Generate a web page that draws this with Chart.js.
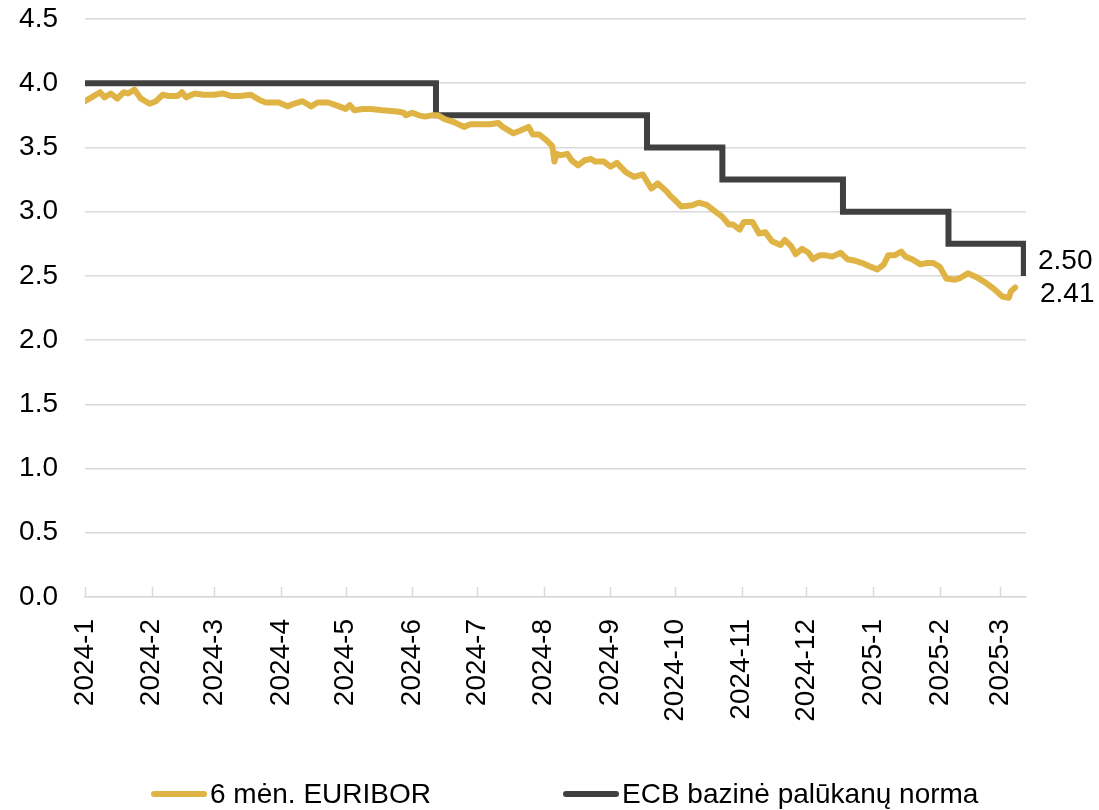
<!DOCTYPE html>
<html>
<head>
<meta charset="utf-8">
<script src="https://cdn.jsdelivr.net/npm/chart.js@4.4.1/dist/chart.umd.min.js"></script>
<style>
  body { margin: 0; background: #fff; }
  #wrap { position: relative; width: 1099px; height: 810px; }
  #legend { position: absolute; top: 778px; left: 0; width: 1099px; height: 32px;
            font-family: 'Liberation Sans', Arial, sans-serif; font-size: 28px; color: #000; }
  .item { position: absolute; top: 0; display: flex; align-items: center; white-space: nowrap; }
  .swatch { display: inline-block; width: 56px; height: 6px; border-radius: 3px; margin-right: 3px; }
</style>
</head>
<body>
<div id="wrap">
  <canvas id="chart"></canvas>
  <div id="legend">
    <div class="item" style="left:151px"><span class="swatch" style="background:#dfb444"></span>6 mėn. EURIBOR</div>
    <div class="item" style="left:563px"><span class="swatch" style="background:#404040"></span>ECB bazinė palūkanų norma</div>
  </div>
</div>
<script>
// x values are days counted from 2024-01-01
const monthDays = [0, 31, 60, 91, 121, 152, 182, 213, 244, 274, 305, 335, 366, 397, 425];
const monthLabels = ['2024-1', '2024-2', '2024-3', '2024-4', '2024-5', '2024-6', '2024-7', '2024-8',
    '2024-9', '2024-10', '2024-11', '2024-12', '2025-1', '2025-2', '2025-3'];

const euriborDays = [0, 4, 7, 9, 12, 15, 18, 20, 23, 26, 30, 33, 36, 39, 43, 45, 47, 51, 55, 60,
    64, 68, 72, 77, 81, 84, 90, 94, 97, 101, 103, 105, 108, 113, 118, 121, 123, 125, 129, 133,
    138, 145, 148, 149, 152, 155, 158, 161, 164, 167, 171, 176, 179, 183, 188, 192, 194, 199, 202, 206,
    208, 211, 214, 217, 218, 219, 221, 224, 226, 229, 232, 235, 237, 241, 244, 247, 251, 255, 259, 263,
    266, 270, 272, 274, 277, 282, 285, 289, 292, 296, 299, 301, 304, 306, 310, 313, 316, 319, 323, 325,
    328, 330, 333, 336, 338, 341, 344, 347, 351, 354, 357, 361, 365, 368, 371, 373, 376, 379, 381, 384,
    388, 391, 394, 397, 400, 404, 406, 410, 414, 418, 422, 426, 429, 430, 432];
const euriborValues = [3.86, 3.90, 3.93, 3.89, 3.92, 3.88, 3.93, 3.92, 3.95, 3.88, 3.84, 3.86, 3.91, 3.90, 3.90, 3.93, 3.89, 3.92, 3.91, 3.91,
    3.92, 3.90, 3.90, 3.91, 3.87, 3.85, 3.85, 3.82, 3.84, 3.86, 3.84, 3.82, 3.85, 3.85, 3.82, 3.80, 3.83, 3.79, 3.80, 3.80,
    3.79, 3.78, 3.77, 3.75, 3.77, 3.75, 3.74, 3.75, 3.75, 3.72, 3.70, 3.66, 3.68, 3.68, 3.68, 3.69, 3.66, 3.61, 3.63, 3.66,
    3.60, 3.60, 3.56, 3.51, 3.39, 3.45, 3.44, 3.45, 3.40, 3.36, 3.40, 3.41, 3.39, 3.39, 3.35, 3.38, 3.31, 3.27, 3.29, 3.18,
    3.22, 3.16, 3.12, 3.09, 3.04, 3.05, 3.07, 3.05, 3.01, 2.96, 2.90, 2.90, 2.86, 2.92, 2.92, 2.83, 2.84, 2.77, 2.74, 2.78,
    2.73, 2.67, 2.71, 2.68, 2.63, 2.66, 2.66, 2.65, 2.68, 2.63, 2.62, 2.60, 2.57, 2.55, 2.59, 2.66, 2.66, 2.69, 2.65, 2.63,
    2.59, 2.60, 2.60, 2.57, 2.48, 2.47, 2.48, 2.52, 2.49, 2.45, 2.40, 2.34, 2.33, 2.38, 2.41];

// ECB rate change dates and new rate
const ecbDays = [0, 163, 261, 296, 352, 401, 436];
const ecbRates = [4.0, 3.75, 3.5, 3.25, 3.0, 2.75, 2.5];

const lastLabels = ['2.50', '2.41'];

const euribor = euriborDays.map((d, i) => ({ x: d, y: euriborValues[i] }));
const ecb = ecbDays.map((d, i) => ({ x: d, y: ecbRates[i] }));

Chart.defaults.font.family = "'Liberation Sans', Arial, sans-serif";
Chart.defaults.color = '#000';

const innerTicks = {
    id: 'innerTicks',
    beforeDatasetsDraw(chart) {
        const ctx = chart.ctx;
        const xs = chart.scales.x;
        const bottom = chart.chartArea.bottom;
        ctx.save();
        ctx.strokeStyle = '#d9d9d9';
        ctx.lineWidth = 1.5;
        monthDays.forEach(d => {
            const px = Math.round(xs.getPixelForValue(d)) + 0.5;
            ctx.beginPath();
            ctx.moveTo(px, bottom - 10);
            ctx.lineTo(px, bottom);
            ctx.stroke();
        });
        ctx.restore();
    }
};

const endLabels = {
    id: 'endLabels',
    afterDatasetsDraw(chart) {
        const ctx = chart.ctx;
        const ys = chart.scales.y;
        const x = chart.chartArea.right + 12;
        ctx.save();
        ctx.font = "28px 'Liberation Sans', Arial, sans-serif";
        ctx.fillStyle = '#000';
        ctx.textBaseline = 'middle';
        ctx.textAlign = 'left';
        ctx.fillText(lastLabels[0], x, ys.getPixelForValue(ecbRates[ecbRates.length - 1]) - 15);
        ctx.fillText(lastLabels[1], x + 2, ys.getPixelForValue(euriborValues[euriborValues.length - 1]) + 7);
        ctx.restore();
    }
};

const ctx = document.getElementById('chart');
new Chart(ctx, {
    type: 'line',
    data: {
        datasets: [{
            label: '6 mėn. EURIBOR',
            data: euribor,
            borderColor: '#dfb444',
            borderWidth: 6,
            pointRadius: 0,
            tension: 0,
            borderJoinStyle: 'round',
            borderCapStyle: 'round'
        }, {
            label: 'ECB bazinė palūkanų norma',
            data: ecb,
            borderColor: '#404040',
            borderWidth: 6,
            pointRadius: 0,
            stepped: 'before',
            borderJoinStyle: 'miter'
        }]
    },
    options: {
        responsive: true,
        maintainAspectRatio: false,
        animation: false,
        layout: { padding: { top: 19, right: 73, left: 0, bottom: 53 } },
        plugins: {
            legend: { display: false },
            tooltip: { enabled: false }
        },
        scales: {
            x: {
                type: 'linear',
                min: 0,
                max: 437,
                afterBuildTicks(scale) {
                    scale.ticks = monthDays.map(v => ({ value: v }));
                },
                afterFit(scale) { scale.height = 160; },
                ticks: {
                    autoSkip: false,
                    minRotation: 90,
                    maxRotation: 90,
                    padding: 22,
                    font: { size: 28 },
                    callback: (v) => monthLabels[monthDays.indexOf(v)]
                },
                grid: { display: false, drawTicks: false },
                border: { display: true, color: '#d9d9d9', width: 1.5 }
            },
            y: {
                min: 0,
                max: 4.5,
                afterFit(scale) {
                    scale.width = 85;
                    scale.paddingTop = 0;
                    scale.paddingBottom = 0;
                },
                ticks: {
                    stepSize: 0.5,
                    padding: 27,
                    font: { size: 28 },
                    callback: (v) => v.toFixed(1)
                },
                grid: { color: '#d9d9d9', lineWidth: 1.5, drawTicks: false },
                border: { display: false }
            }
        }
    },
    plugins: [innerTicks, endLabels]
});
</script>
</body>
</html>
